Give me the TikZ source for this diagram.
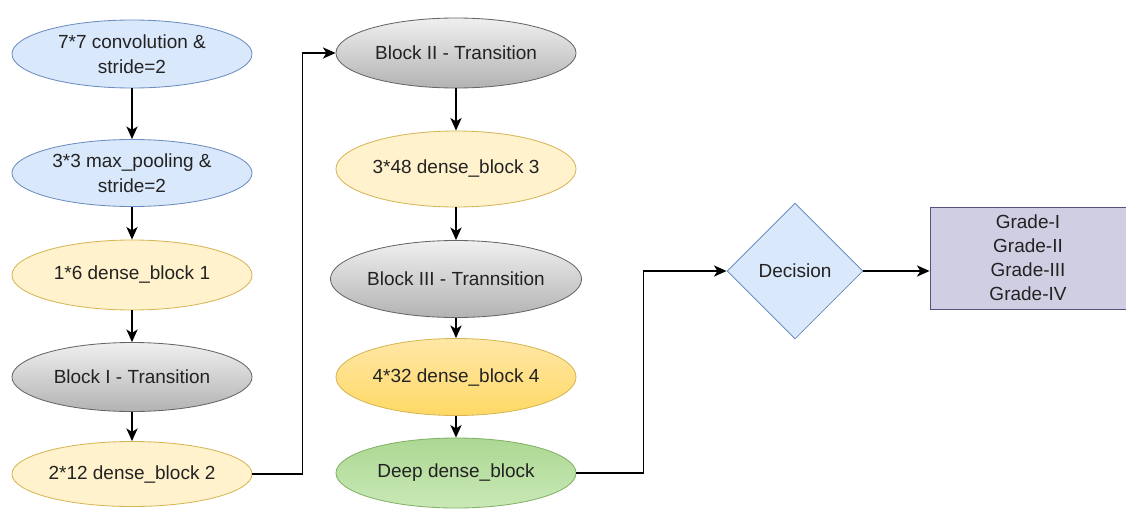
\documentclass[tikz,border=0pt]{standalone}
\usepackage{fontspec}
\setmainfont{Liberation Sans}
\usetikzlibrary{shapes.geometric, arrows.meta}

\definecolor{blueFill}{HTML}{DAE8FC}
\definecolor{blueLine}{HTML}{6C8EBF}
\definecolor{yellowFill}{HTML}{FFF2CC}
\definecolor{yellowLine}{HTML}{D6B656}
\definecolor{goldTop}{HTML}{FFE7A6}
\definecolor{goldBottom}{HTML}{FFD966}
\definecolor{grayLine}{HTML}{666666}
\definecolor{greenTop}{HTML}{ACD893}
\definecolor{greenBottom}{HTML}{C9E8B6}
\definecolor{greenLine}{HTML}{82B366}
\definecolor{purpleFill}{HTML}{D0CEE2}
\definecolor{purpleLine}{HTML}{56517E}
\definecolor{txt}{HTML}{222222}

\begin{document}
\begin{tikzpicture}[x = 0.025cm, y = -0.025cm,
    every node/.style = {font=\fontsize{13.5}{18}\selectfont, text=txt, align=center},
    ell/.style = {ellipse, draw, line width=0.6pt, inner sep=0pt, minimum width=6cm, minimum height=#1*0.025cm},
    blueell/.style = {ell=#1, fill=blueFill, draw=blueLine},
    yellowell/.style = {ell=#1, fill=yellowFill, draw=yellowLine},
    grayell/.style = {ell=#1, top color=white!94!black, bottom color=white!70!black, draw=grayLine},
    goldell/.style = {ell=#1, top color=goldTop, bottom color=goldBottom, draw=yellowLine},
    greenell/.style = {ell=#1, top color=greenTop, bottom color=greenBottom, draw=greenLine},
    flow/.style = {draw, line width=0.8pt, -{Stealth[length=9pt, width=8pt, inset=2.5pt]}}]
    \useasboundingbox (0, 0) rectangle (1126, 508);

    % first column
    \node (conv) at (132, 54) [blueell=68]{7*7 convolution \&\\stride=2};
    \node (pool) at (132, 173) [blueell=67]{3*3 max\_pooling \&\\stride=2};
    \node (dbone) at (132, 275) [yellowell=70]{1*6 dense\_block 1};
    \node (trone) at (132, 377) [grayell=69]{Block I - Transition};
    \node (dbtwo) at (132, 474) [yellowell=65]{2*12 dense\_block 2};

    % second column
    \node (trtwo) at (456, 53) [grayell=70]{Block II - Transition};
    \node (dbthree) at (456, 169) [yellowell=76]{3*48 dense\_block 3};
    \node (trthree) at (456, 279) [grayell=77]{Block III - Trannsition};
    \node (dbfour) at (456, 377) [goldell=77]{4*32 dense\_block 4};
    \node (deep) at (456, 473) [greenell=70]{Deep dense\_block};

    % decision and output grades
    \node (decision) at (795, 271) [diamond, draw=blueLine, fill=blueFill, line width=0.6pt, inner sep=0pt,
        minimum width=3.4cm, minimum height=3.4cm]{Decision};
    \node (grades) at (1028, 258) [rectangle, draw=purpleLine, fill=purpleFill, line width=0.6pt,
        minimum width=4.9cm, minimum height=2.55cm, font=\fontsize{13.5}{17}\selectfont]{Grade-I\\Grade-II\\Grade-III\\Grade-IV};

    \draw[flow] (conv) -- (pool);
    \draw[flow] (pool) -- (dbone);
    \draw[flow] (dbone) -- (trone);
    \draw[flow] (trone) -- (dbtwo);
    \draw[flow] (dbtwo.east) -- ++(50, 0) |- (trtwo.west);
    \draw[flow] (trtwo) -- (dbthree);
    \draw[flow] (dbthree) -- (trthree);
    \draw[flow] (trthree) -- (dbfour);
    \draw[flow] (dbfour) -- (deep);
    \draw[flow] (deep.east) -- ++(67, 0) |- (decision.west);
    \draw[flow] (decision.east) -- (decision.east -| grades.west);
\end{tikzpicture}
\end{document}
